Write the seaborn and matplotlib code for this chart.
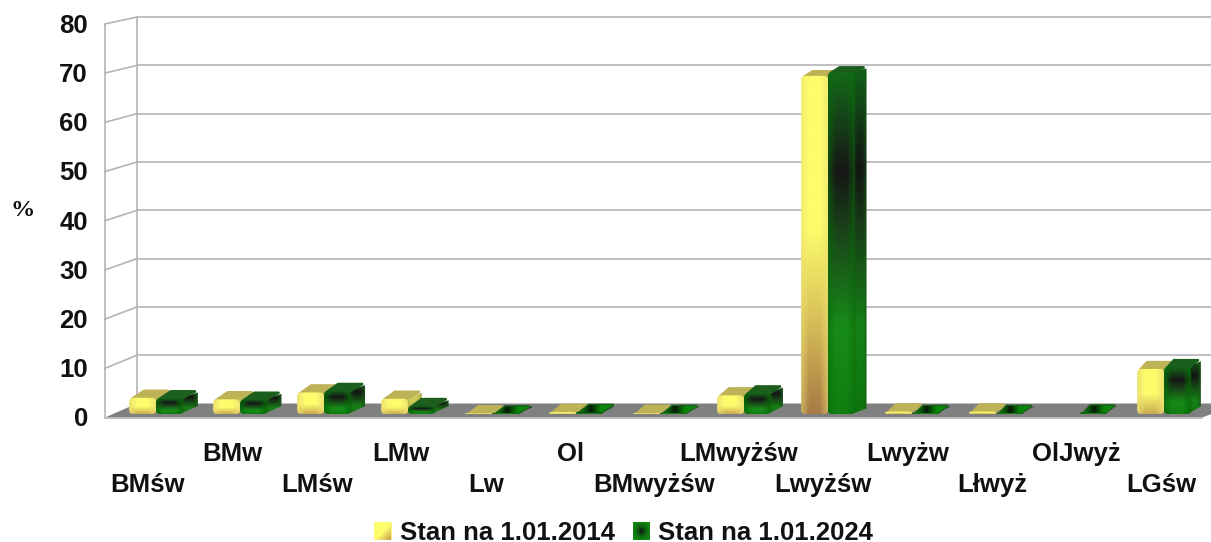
import numpy as np
import pandas as pd
import matplotlib
matplotlib.use("Agg")
import matplotlib.pyplot as plt
from matplotlib.colors import LinearSegmentedColormap
from matplotlib.patches import FancyBboxPatch, Polygon
from matplotlib.transforms import IdentityTransform
import seaborn as sns

# Data
categories = ["BMśw", "BMw", "LMśw", "LMw", "Lw", "Ol", "BMwyżśw", "LMwyżśw",
              "Lwyżśw", "Lwyżw", "Lłwyż", "OlJwyż", "LGśw"]
stan_2014 = [3.3, 3.0, 4.4, 3.1, 0.1, 0.4, 0.2, 3.8, 69.0, 0.5, 0.5, 0.0, 9.2]
stan_2024 = [3.2, 2.9, 4.7, 1.6, 0.1, 0.4, 0.2, 4.2, 69.8, 0.2, 0.2, 0.3, 9.6]
series_names = ["Stan na 1.01.2014", "Stan na 1.01.2024"]
y_ticks = [0, 10, 20, 30, 40, 50, 60, 70, 80]

W, H = 1211, 542
FS = 18.5
sns.set_theme(style="white")
plt.rcParams["font.family"] = ["Liberation Sans", "DejaVu Sans"]
plt.rcParams["font.weight"] = "bold"

df = pd.DataFrame({
    "kategoria": categories * 2,
    "udzial": stan_2014 + stan_2024,
    "stan": [series_names[0]] * len(categories) + [series_names[1]] * len(categories),
})

fig = plt.figure(figsize=(W / 100, H / 100), dpi=100)

# background layer in pixel coordinates: walls, floor, grid
bg = fig.add_axes([0, 0, 1, 1])
bg.set_xlim(0, W)
bg.set_ylim(H, 0)
bg.axis("off")


def y_back(v):
    return 403.5 - 4.83 * v


def y_front(v):
    return 417.5 - 4.92 * v


grid_col = "#b4b4b4"
bg.add_patch(Polygon([(105, 417.5), (137, 403.5), (1240, 403.5), (1202, 417.5)],
                     fc="#808080", ec="none"))
bg.plot([105, 105], [y_front(80), y_front(0)], color=grid_col, lw=1.2)
bg.plot([137, 137], [y_back(80), y_back(0)], color=grid_col, lw=1.2)
bg.plot([105, 1202], [417.5, 417.5], color=grid_col, lw=1.2)
for v in y_ticks:
    if v > 0:
        bg.plot([137, W], [y_back(v), y_back(v)], color=grid_col, lw=1.2)
        bg.plot([105, 137], [y_front(v), y_back(v)], color=grid_col, lw=1.2)
    bg.text(88, y_front(v) + 2, str(v), ha="right", va="center", fontsize=FS, color="#111111")
bg.text(22.5, 210, "%", ha="center", va="center", fontsize=17.5, fontweight="bold",
        family="Liberation Serif", color="#111111")

# bars, front plane: zero at 414 px, 4.9 px per unit, 84 px per group
ax = fig.add_axes([114 / W, 1 - 414 / H, 1092 / W, 392 / H])
ax.patch.set_alpha(0)
sns.barplot(data=df, x="kategoria", y="udzial", hue="stan", ax=ax, errorbar=None,
            width=0.64, saturation=1, palette=["#fbf36a", "#0f7a0f"], legend=False)
ax.set_xlim(-0.5, 12.5)
ax.set_ylim(0, 80)
ax.set_autoscale_on(False)
ax.axis("off")

yellow_map = LinearSegmentedColormap.from_list("y", [
    (0, "#fdfd6c"), (0.45, "#fdfd6c"), (0.7, "#dcc55a"), (1, "#a87b45")])
green_map = LinearSegmentedColormap.from_list("g", [
    (0, "#14691a"), (0.29, "#161616"), (0.52, "#1a501a"), (0.75, "#188c18"), (1, "#0f7f0f")])
swatch_map = LinearSegmentedColormap.from_list("s", ["#141414", "#0e6a0e", "#128a12"])


def face_image(cmap, edge_col, edge_mix, t_end=1.0, rows=120, cols=30):
    t = np.linspace(0, t_end, rows)
    img = cmap(t)[:, :3][:, None, :].repeat(cols, axis=1)
    u = np.linspace(0, 1, cols)
    edge = np.clip(1 - np.minimum(u, 1 - u) / 0.3, 0, 1)[None, :, None]
    return img * (1 - edge * edge_mix) + np.array(edge_col)[None, None, :] * edge * edge_mix


def painted(img, patch, extent, z):
    ax.add_patch(patch)
    patch.set_visible(False)
    ax.imshow(img, extent=extent, aspect="auto", clip_path=patch, zorder=z,
              interpolation="bilinear")


z = 3
yellow_edge = (0.92, 0.87, 0.45)
green_edge = (0.03, 0.42, 0.03)
for i in range(len(categories)):
    # the depth of a bar shrinks slightly to the right and upwards
    dx = (15 - 5 * i / 12) / 84
    for s, cmap, edge_col, top_col in [(0, yellow_map, yellow_edge, "#bdb356"),
                                       (1, green_map, green_edge, "#1c5f1c")]:
        bar = ax.containers[s][i]
        bar.set_alpha(0)
        x0, w, h = bar.get_x(), bar.get_width(), bar.get_height()
        if h <= 0:
            continue
        x1 = x0 + w
        dy = (8 - 2.5 * h / 70) / 4.9
        nudge = 3 / 84
        short = h < 20
        t_end = 0.82 if short and s == 0 else 1.0
        mix = 0.85 if short else 0.55
        # side face
        side = Polygon([(x1 - nudge, 0), (x1 + dx, dy), (x1 + dx, h + dy - 0.4), (x1 - nudge, h)],
                       fc="none", ec="none")
        if s:
            side_img = face_image(cmap, (0.1, 0.38, 0.1), 0.92 if short else 0.6) * 0.92
        else:
            side_img = face_image(cmap, (0.7, 0.65, 0.3), 0.5, t_end) * 0.8
        painted(side_img, side, (x1 - nudge, x1 + dx, 0, h + dy), z)
        # top face
        top = Polygon([(x0 + nudge, h - 0.2), (x0 + dx, h + dy - 0.2), (x1 + dx - nudge, h + dy - 0.2),
                       (x1 - nudge, h - 0.2)],
                      fc=top_col, ec=top_col, lw=2, joinstyle="round", zorder=z + 1)
        ax.add_patch(top)
        if s == 1 and h < 1:
            flat = np.array([[0.03, 0.5, 0.03], [0.03, 0.1, 0.03], [0.03, 0.52, 0.03], [0.05, 0.55, 0.05]])[None, :, :]
            painted(flat, Polygon(top.get_xy(), fc="none", ec="none"), (x0, x1 + dx, h, h + dy), z + 2)
        # front face with rounded corners, in pixels
        (px0, py0), (px1, py1) = ax.transData.transform([(x0, 0), (x1, h)])
        bar_h = max(py1 - py0, 1)
        front = FancyBboxPatch((px0, py0), px1 - px0, bar_h,
                               boxstyle="round,pad=0,rounding_size=%.1f" % min(4, bar_h / 2),
                               transform=IdentityTransform(), fc="none", ec="none")
        painted(face_image(cmap, edge_col, mix, t_end), front,
                (x0, x1, 0, max(h, 0.25)), z + 3)
        z += 4

# category labels on two alternating rows
for i, name in enumerate(categories):
    ax.annotate(name, xy=(i, 0), xycoords="data", textcoords="offset pixels",
                xytext=(-8 + 5 * i / 12, -40 if i % 2 else -71), ha="center", va="center",
                fontsize=FS, color="#111111", annotation_clip=False)

handles = [ax.containers[0][0], ax.containers[1][0]]
for handle in handles:
    handle.set_alpha(1)
leg = fig.legend(handles, series_names, loc="center", bbox_to_anchor=(624 / W, 1 - 533 / H),
                 ncol=2, frameon=False, fontsize=FS, handlelength=0.66, handleheight=0.66,
                 handletextpad=0.32, columnspacing=0.7, borderpad=0, borderaxespad=0,
                 labelcolor="#111111")
ax.containers[0][0].set_alpha(0)
ax.containers[1][0].set_alpha(0)
for handle in leg.legend_handles:
    handle.set_alpha(1)

# gradient swatches on top of the legend handles
fig.canvas.draw()
for k, handle in enumerate(leg.legend_handles):
    box = handle.get_window_extent()
    rows, cols = int(box.height) + 1, int(box.width) + 1
    yy, xx = np.mgrid[0:1:rows * 1j, 0:1:cols * 1j]
    if k == 0:
        swatch = yellow_map(np.clip((xx + yy) / 2, 0, 1) * 0.85)[:, :, :3]
    else:
        swatch = swatch_map(np.clip(np.hypot(xx - 0.5, yy - 0.5) / 0.6, 0, 1))[:, :, :3]
    fig.figimage(swatch, xo=int(box.x0), yo=int(box.y0), origin="upper", zorder=10)

fig.savefig("out.png", dpi=100, facecolor="white")
